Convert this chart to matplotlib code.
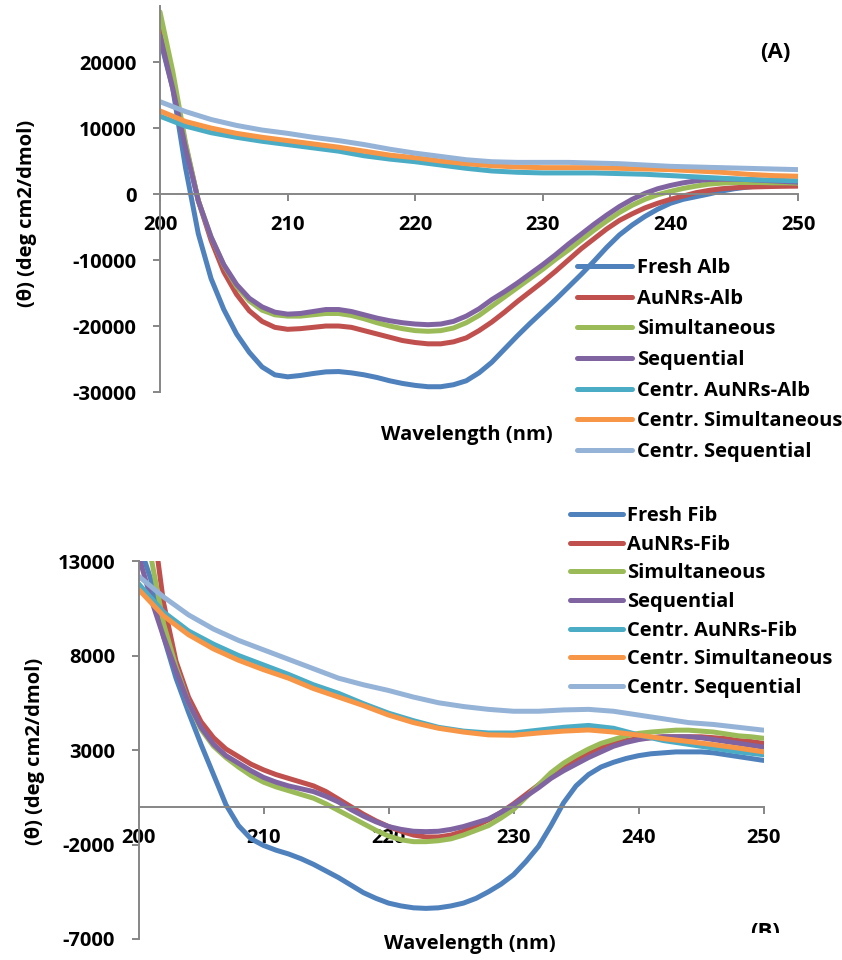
import numpy as np
import matplotlib
matplotlib.use("Agg")
import matplotlib.pyplot as plt
from matplotlib.transforms import Bbox, TransformedBbox

plt.rcParams['font.family'] = ['Open Sans', 'DejaVu Sans']
plt.rcParams['font.weight'] = 'bold'
plt.rcParams['axes.unicode_minus'] = False

# ---- wavelength grids (nm) ----
wl_fine = np.arange(200, 251, 1)
wl_coarse = np.arange(200, 251, 2)

# ---- panel A : albumin ----
fresh_alb = [23500, 16000, 4000, -6000, -12800, -17500, -21200, -24000, -26200, -27400,
             -27700, -27500, -27200, -26950, -26900, -27100, -27400, -27800, -28300, -28700,
             -29000, -29200, -29200, -28900, -28300, -27100, -25500, -23500, -21500, -19600,
             -17800, -16000, -14100, -12200, -10200, -8100, -6200, -4700, -3400, -2300,
             -1400, -800, -400, 0, 450, 800, 1050, 1250, 1380, 1450, 1500]
aunrs_alb = [26000, 17300, 7500, -1000, -7000, -11800, -15200, -17700, -19300, -20200,
             -20500, -20400, -20200, -20000, -20000, -20200, -20700, -21200, -21700, -22200,
             -22500, -22700, -22700, -22400, -21800, -20700, -19400, -17900, -16300, -14800,
             -13300, -11700, -10000, -8300, -6800, -5300, -4000, -3000, -2100, -1400,
             -800, -300, 200, 550, 800, 950, 1050, 1100, 1150, 1180, 1200]
simult_alb = [27600, 18600, 7800, -1000, -6500, -10800, -14000, -16200, -17600, -18300,
              -18500, -18500, -18300, -18100, -18100, -18400, -18900, -19500, -20000, -20400,
              -20700, -20800, -20700, -20300, -19500, -18400, -17000, -15600, -14200, -12800,
              -11400, -9900, -8500, -7000, -5500, -4100, -2800, -1700, -800, -100,
              400, 850, 1200, 1500, 1650, 1750, 1750, 1750, 1700, 1700, 1650]
seq_alb = [24000, 16000, 7000, -1000, -6500, -10700, -13700, -15800, -17100, -17900,
           -18200, -18100, -17800, -17500, -17500, -17800, -18300, -18800, -19200, -19500,
           -19700, -19800, -19700, -19300, -18500, -17400, -16000, -14800, -13500, -12100,
           -10700, -9200, -7600, -6100, -4600, -3200, -1900, -800, 100, 800,
           1300, 1700, 2000, 2200, 2250, 2250, 2200, 2100, 2000, 1900, 1800]
c_aunrs_alb = [11800, 10300, 9300, 8600, 8000, 7500, 7000, 6500, 5800, 5300, 4900, 4400, 3900,
               3500, 3300, 3200, 3200, 3200, 3100, 3000, 2800, 2600, 2400, 2200, 2100, 2000]
c_simult_alb = [12600, 11000, 10000, 9200, 8600, 8100, 7600, 7100, 6500, 5900, 5500, 5000, 4600,
                4300, 4100, 4000, 4000, 4000, 3900, 3800, 3700, 3500, 3300, 3000, 2800, 2700]
c_seq_alb = [14000, 12500, 11300, 10400, 9700, 9200, 8600, 8100, 7500, 6800, 6200, 5700, 5200,
             4900, 4800, 4800, 4800, 4700, 4600, 4400, 4200, 4100, 4000, 3900, 3800, 3700]

# ---- panel B : fibrinogen ----
fresh_fib = [14000, 12000, 9000, 6800, 5000, 3300, 1700, 100, -1000, -1700,
             -2050, -2300, -2500, -2750, -3050, -3400, -3750, -4150, -4550, -4850,
             -5100, -5250, -5350, -5380, -5350, -5250, -5100, -4850, -4500, -4100,
             -3600, -2900, -2100, -1000, 200, 1100, 1700, 2100, 2350, 2550,
             2700, 2800, 2850, 2900, 2900, 2900, 2850, 2750, 2650, 2550, 2450]
aunrs_fib = [19000, 15800, 10800, 7700, 5800, 4500, 3650, 3050, 2650, 2250,
             1950, 1700, 1500, 1300, 1100, 800, 400, 0, -400, -750,
             -1050, -1300, -1500, -1600, -1600, -1500, -1300, -1000, -700, -300,
             150, 650, 1150, 1650, 2100, 2500, 2850, 3150, 3350, 3500,
             3600, 3650, 3700, 3700, 3700, 3700, 3650, 3600, 3500, 3450, 3350]
simult_fib = [16000, 13200, 9700, 7400, 5500, 4100, 3200, 2600, 2100, 1650,
              1300, 1050, 850, 650, 450, 150, -200, -550, -900, -1250,
              -1550, -1750, -1850, -1850, -1800, -1700, -1500, -1250, -1000, -600,
              -150, 500, 1150, 1800, 2300, 2700, 3050, 3350, 3550, 3750,
              3880, 3950, 4000, 4050, 4050, 4000, 3950, 3850, 3750, 3700, 3620]
seq_fib = [13300, 11000, 9000, 7200, 5500, 4200, 3300, 2700, 2300, 1900,
           1550, 1300, 1100, 950, 800, 550, 250, -150, -500, -800,
           -1050, -1200, -1300, -1320, -1300, -1200, -1050, -850, -650, -300,
           100, 550, 1000, 1500, 1900, 2250, 2600, 2900, 3200, 3400,
           3550, 3650, 3700, 3700, 3700, 3650, 3550, 3450, 3350, 3250, 3150]
c_aunrs_fib = [11800, 10300, 9300, 8600, 8000, 7500, 7000, 6450, 6000, 5450, 4950, 4550, 4200,
               4000, 3900, 3900, 4050, 4200, 4300, 4150, 3800, 3500, 3300, 3100, 2900, 2750]
c_simult_fib = [11500, 10100, 9100, 8350, 7750, 7250, 6800, 6250, 5800, 5350, 4850, 4450, 4150,
                3950, 3800, 3780, 3900, 4000, 4060, 3950, 3790, 3600, 3450, 3280, 3100, 2900]
c_seq_fib = [12200, 11100, 10150, 9400, 8800, 8300, 7800, 7300, 6800, 6450, 6150, 5800, 5500,
             5300, 5150, 5050, 5050, 5120, 5150, 5050, 4850, 4650, 4450, 4350, 4200, 4050]

labels_A = ["Fresh Alb", "AuNRs-Alb", "Simultaneous", "Sequential",
            "Centr. AuNRs-Alb", "Centr. Simultaneous", "Centr. Sequential"]
labels_B = ["Fresh Fib", "AuNRs-Fib", "Simultaneous", "Sequential",
            "Centr. AuNRs-Fib", "Centr. Simultaneous", "Centr. Sequential"]
colors = ["#4F81BD", "#C0504D", "#9BBB59", "#8064A2", "#4BACC6", "#F79646", "#95B3D7"]

FS = 14.5
axis_col = "#868686"

fig = plt.figure(figsize=(8.42, 9.60), dpi=100)
W, H = 842.0, 960.0


def px_axes(x0, x1, ytop, ybot):
    return fig.add_axes([x0 / W, 1 - ybot / H, (x1 - x0) / W, (ybot - ytop) / H])


def style_axis(ax, ylim, yticks):
    ax.set_xlim(200, 250)
    ax.set_ylim(*ylim)
    ax.spines['top'].set_visible(False)
    ax.spines['right'].set_visible(False)
    ax.spines['bottom'].set_position(('data', 0))
    for s in ('left', 'bottom'):
        ax.spines[s].set_color(axis_col)
        ax.spines[s].set_linewidth(1.4)
    ax.set_xticks([200, 210, 220, 230, 240, 250])
    ax.set_yticks(yticks)
    ax.tick_params(axis='both', colors=axis_col, width=1.4, length=5,
                   labelcolor='black', labelsize=FS)
    ax.tick_params(axis='x', pad=10)
    ax.tick_params(axis='y', pad=12)
    for t in ax.get_xticklabels() + ax.get_yticklabels():
        t.set_fontweight('bold')


def draw(ax, series, labels):
    wls = [wl_fine] * 4 + [wl_coarse] * 3
    for wl, ys, lab, c in zip(wls, series, labels, colors):
        ax.plot(wl, ys, color=c, lw=3.6, label=lab, solid_capstyle='round',
                solid_joinstyle='round')


# ---- panel A ----
axA = px_axes(160, 798, 6, 392)
style_axis(axA, (-30000, 28500), [-30000, -20000, -10000, 0, 10000, 20000])
draw(axA, [fresh_alb, aunrs_alb, simult_alb, seq_alb,
           c_aunrs_alb, c_simult_alb, c_seq_alb], labels_A)
axA.legend(loc='upper left', bbox_to_anchor=(577 / W, 1 - 258 / H),
           bbox_transform=fig.transFigure, frameon=False,
           handlelength=2.75, handletextpad=0.25, labelspacing=0.53,
           borderpad=0, borderaxespad=0, prop={'weight': 'bold', 'size': FS})

# ---- panel B ----
axB = px_axes(138.5, 763.5, 561, 939)
style_axis(axB, (-7000, 13000), [-7000, -2000, 3000, 8000, 13000])
draw(axB, [fresh_fib, aunrs_fib, simult_fib, seq_fib,
           c_aunrs_fib, c_simult_fib, c_seq_fib], labels_B)
axB.legend(loc='upper left', bbox_to_anchor=(570 / W, 1 - 506 / H),
           bbox_transform=fig.transFigure, frameon=False,
           handlelength=2.65, handletextpad=0.2, labelspacing=0.43,
           borderpad=0, borderaxespad=0, prop={'weight': 'bold', 'size': FS})

# ---- axis titles and panel tags ----
ylab = "(θ) (deg cm2/dmol)"
fig.text(27 / W, 1 - 213 / H, ylab, rotation=90, ha='center', va='center',
         fontsize=FS, fontweight='bold')
fig.text(35 / W, 1 - 751 / H, ylab, rotation=90, ha='center', va='center',
         fontsize=FS, fontweight='bold')
fig.text(467 / W, 1 - 435 / H, "Wavelength (nm)", ha='center', va='center',
         fontsize=FS, fontweight='bold')
fig.text(470 / W, 1 - 944 / H, "Wavelength (nm)", ha='center', va='center',
         fontsize=FS, fontweight='bold')
fig.text(775 / W, 1 - 52 / H, "(A)", ha='center', va='center',
         fontsize=16, fontweight='bold')
tagB = fig.text(765 / W, 1 - 932 / H, "(B)", ha='center', va='center',
                fontsize=16, fontweight='bold')
tagB.set_clip_box(TransformedBbox(Bbox([[700 / W, 1 - 933 / H], [830 / W, 1 - 900 / H]]),
                                  fig.transFigure))
tagB.set_clip_on(True)

fig.savefig("out.png", dpi=100, facecolor='white')
